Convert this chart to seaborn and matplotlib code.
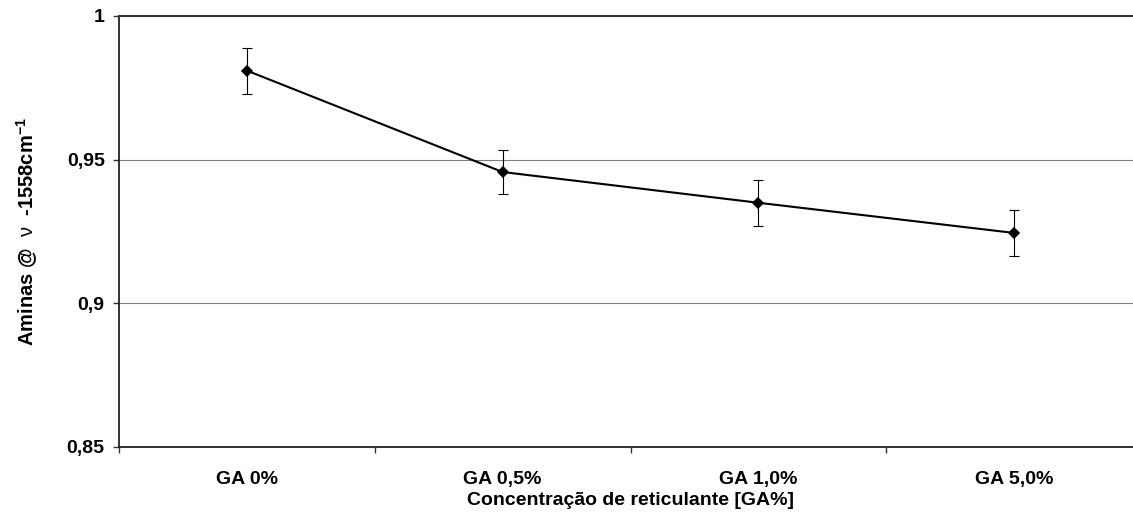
import numpy as np
import pandas as pd
import matplotlib
matplotlib.use("Agg")
import matplotlib.pyplot as plt
import seaborn as sns
from matplotlib.ticker import FixedLocator

# ---- data ----
categories = ["GA 0%", "GA 0,5%", "GA 1,0%", "GA 5,0%"]
values = [0.981, 0.9457, 0.935, 0.9245]
errors = [0.008, 0.0078, 0.008, 0.0081]
y_ticks = [0.85, 0.9, 0.95, 1.0]
y_tick_labels = ["0,85", "0,9", "0,95", "1"]
x_title = "Concentração de reticulante [GA%]"
y_title = r"Aminas @  $\mathrm{\nu}$  -1558cm$^{\mathbf{-1}}$"

df = pd.DataFrame({"cat": categories, "val": values, "err": errors})

sns.set_theme(style="white")
plt.rcParams["font.family"] = ["Liberation Sans", "DejaVu Sans"]
plt.rcParams["mathtext.fontset"] = "custom"
plt.rcParams["mathtext.rm"] = "Liberation Sans"
plt.rcParams["mathtext.bf"] = "Liberation Sans:bold"
plt.rcParams["mathtext.it"] = "Liberation Sans:italic"
plt.rcParams["text.color"] = "black"
plt.rcParams["axes.labelcolor"] = "black"
plt.rcParams["xtick.color"] = "black"
plt.rcParams["ytick.color"] = "black"

fig = plt.figure(figsize=(11.33, 5.31), dpi=100)
W, H = 1133, 531
ax = fig.add_axes([119 / W, 84 / H, (1142 - 119) / W, (447 - 16) / H])

ax.yaxis.grid(True, color="#808080", linewidth=0.8)
ax.set_axisbelow(True)

sns.pointplot(data=df, x="cat", y="val", order=categories, color="black",
              markers="D", markersize=5.5, linewidth=1.5, errorbar=None, ax=ax)
pos = np.arange(len(categories))
ax.errorbar(pos, df["val"], yerr=df["err"], fmt="none", ecolor="black",
            elinewidth=0.8, capsize=3.5, capthick=0.8, zorder=1)

ax.set_xlim(-0.5, len(categories) - 0.5)
ax.set_ylim(0.85, 1.0)
ax.set_yticks(y_ticks)
ax.set_yticklabels(y_tick_labels, fontsize=14, fontweight="bold", color="black")
ax.set_xticks(pos)
ax.set_xticklabels(categories, fontsize=14, fontweight="bold", color="black")
ax.xaxis.set_minor_locator(FixedLocator(np.arange(-0.5, len(categories), 1.0)))
ax.tick_params(axis="x", which="major", length=0, pad=17)
ax.tick_params(axis="x", which="minor", length=4, width=1, color="#333333", direction="out", bottom=True)
ax.tick_params(axis="y", which="major", length=4.3, width=1, color="#333333", direction="out", left=True, pad=6)

for s in ["left", "bottom"]:
    ax.spines[s].set_visible(True)
    ax.spines[s].set_color("#222222")
    ax.spines[s].set_linewidth(1.3)
ax.spines["top"].set_visible(True)
ax.spines["top"].set_color("#333333")
ax.spines["top"].set_linewidth(1.5)
ax.spines["right"].set_visible(False)

ax.set_xlabel(x_title, fontsize=14, fontweight="bold", labelpad=3, color="black")
ax.set_ylabel(y_title, fontsize=14.5, fontweight="bold", labelpad=19, color="black")

fig.savefig("out.png", dpi=100)
